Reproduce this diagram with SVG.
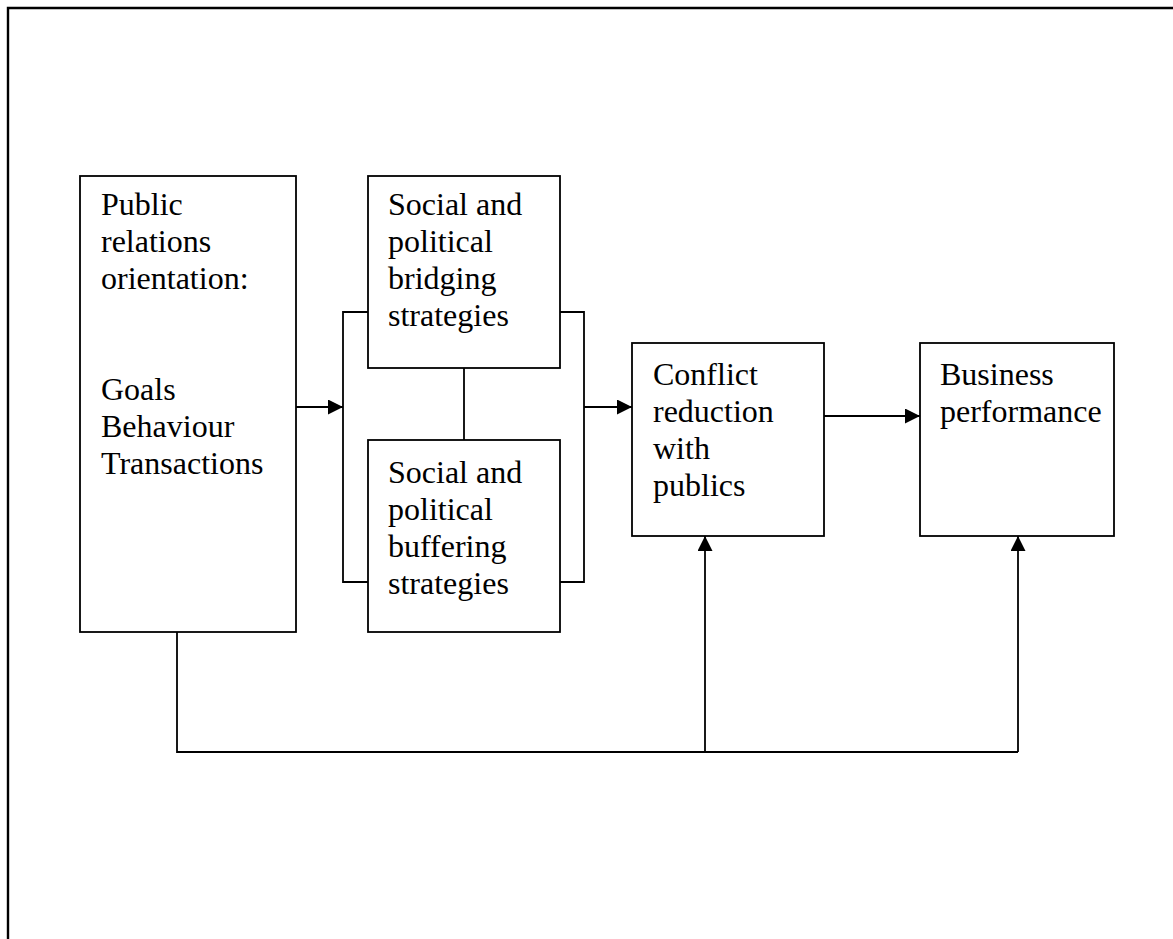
<svg xmlns="http://www.w3.org/2000/svg" width="1173" height="939" viewBox="0 0 1173 939">
<style>
.box{fill:#fff;stroke:#000;stroke-width:1.8}
.ln{fill:none;stroke:#000;stroke-width:1.8}
text{font-family:"Liberation Serif","Times New Roman",serif;font-size:32px;fill:#000}
</style>
<defs>
<marker id="ah" markerWidth="15" markerHeight="15" refX="15" refY="7.5" orient="auto" markerUnits="userSpaceOnUse">
<path d="M0,0 L15,7.5 L0,15 Z" fill="#000"/>
</marker>
</defs>
<rect width="1173" height="939" fill="#fff"/>
<path d="M8,939 L8,8 L1173,8" fill="none" stroke="#000" stroke-width="2.4"/>
<g id="connectors">
<line class="ln" x1="296" y1="407" x2="343" y2="407" marker-end="url(#ah)"/>
<path class="ln" d="M368,312 H343 V582 H368"/>
<path class="ln" d="M560,312 H584 V582 H560"/>
<line class="ln" x1="464" y1="368" x2="464" y2="440"/>
<line class="ln" x1="584" y1="407" x2="632" y2="407" marker-end="url(#ah)"/>
<line class="ln" x1="824" y1="416" x2="920" y2="416" marker-end="url(#ah)"/>
<path class="ln" d="M177,632 V752 H1018"/>
<line class="ln" x1="705" y1="752" x2="705" y2="536" marker-end="url(#ah)"/>
<line class="ln" x1="1018" y1="752" x2="1018" y2="536" marker-end="url(#ah)"/>
</g>
<g id="pr-orientation">
<rect class="box" x="80" y="176" width="216" height="456"/>
<text x="101" y="215">Public</text>
<text x="101" y="252">relations</text>
<text x="101" y="289">orientation:</text>
<text x="101" y="400">Goals</text>
<text x="101" y="437">Behaviour</text>
<text x="101" y="474">Transactions</text>
</g>
<g id="bridging">
<rect class="box" x="368" y="176" width="192" height="192"/>
<text x="388" y="215">Social and</text>
<text x="388" y="252">political</text>
<text x="388" y="289">bridging</text>
<text x="388" y="326">strategies</text>
</g>
<g id="buffering">
<rect class="box" x="368" y="440" width="192" height="192"/>
<text x="388" y="483">Social and</text>
<text x="388" y="520">political</text>
<text x="388" y="557">buffering</text>
<text x="388" y="594">strategies</text>
</g>
<g id="conflict">
<rect class="box" x="632" y="343" width="192" height="193"/>
<text x="653" y="385">Conflict</text>
<text x="653" y="422">reduction</text>
<text x="653" y="459">with</text>
<text x="653" y="496">publics</text>
</g>
<g id="business">
<rect class="box" x="920" y="343" width="194" height="193"/>
<text x="940" y="385">Business</text>
<text x="940" y="422">performance</text>
</g>
</svg>
